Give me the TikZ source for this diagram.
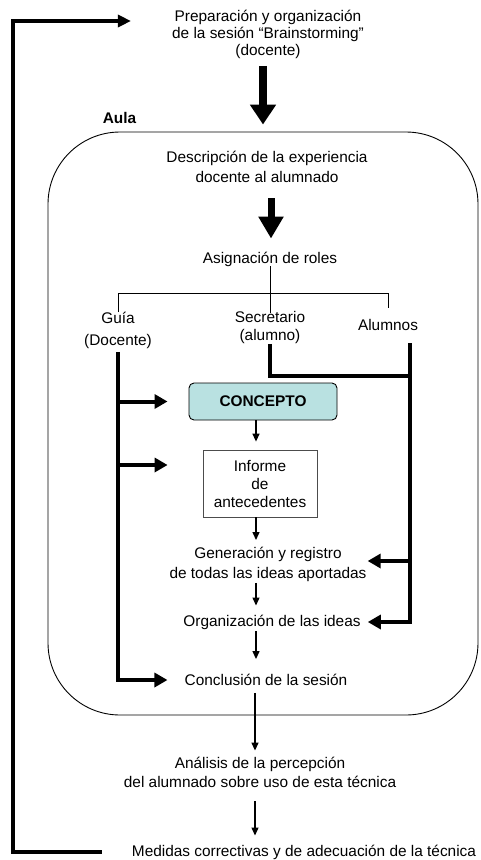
\documentclass[tikz,border=0pt]{standalone}
\usepackage{fontspec}
\setmainfont{Liberation Sans}
\usetikzlibrary{arrows.meta}
\newcommand\myfs[1]{\fontsize{15.4}{#1}\selectfont}
\definecolor{teal1}{HTML}{B9E1E1}
\begin{document}
\begin{tikzpicture}[x=1pt,y=-1pt,
  txt/.style={align=center, inner sep=0pt, font=\myfs{18}},
  bigarrow/.style={line width=8pt, -{Triangle[length=20pt,width=25pt]}},
  thickl/.style={line width=4pt},
  tharrow/.style={line width=4pt, -{Triangle[length=13pt,width=14pt]}},
  fbarrow/.style={line width=4.5pt, -{Triangle[length=13pt,width=12pt]}},
  thinarrow/.style={line width=1.3pt, -{Triangle[length=8pt,width=7pt]}},
  treel/.style={line width=0.7pt}]
\useasboundingbox (0,0) rectangle (480,860);

% outer region
\node[draw, line width=0.9pt, rounded corners=72pt, inner sep=0pt,
      minimum width=430pt, minimum height=583pt] (box) at (263,423.5) {};
\node[inner sep=0pt, font=\myfs{18}\bfseries] (aula) at (119.5,118) {Aula};

% texts
\node[txt, font=\myfs{17}] (top) at (268,34.5) {Preparación y organización\\de la sesión “Brainstorming”\\(docente)};
\node[txt, font=\myfs{20}] (desc) at (267,166.5) {Descripción de la experiencia\\docente al alumnado};
\node[txt] (asig) at (270,259) {Asignación de roles};
\node[txt, font=\myfs{22}] (guia) at (118,330.5) {Guía\\(Docente)};
\node[txt] (secr) at (270,327.5) {Secretario\\(alumno)};
\node[txt] (alum) at (388,325) {Alumnos};
\node[draw, line width=0.9pt, fill=teal1, rounded corners=5pt, inner sep=0pt,
      minimum width=148pt, minimum height=37pt, font=\myfs{18}\bfseries] (conc) at (263,401.5) {CONCEPTO};
\node[draw=black!70, line width=0.8pt, inner sep=0pt, align=center,
      minimum width=114pt, minimum height=67pt, font=\myfs{18}] (inf) at (260,483.5) {Informe\\de\\antecedentes};
\node[txt, font=\myfs{20}] (gen) at (268,564.5) {Generación y registro\\de todas las ideas aportadas};
\node[txt] (org) at (272,622) {Organización de las ideas};
\node[txt] (concl) at (266,680) {Conclusión de la sesión};
\node[txt, font=\myfs{19}] (anal) at (260,772) {Análisis de la percepción\\del alumnado sobre uso de esta técnica};
\node[txt] (med) at (304,852) {Medidas correctivas y de adecuación de la técnica};

% helper coordinates
\coordinate (mx) at (256,0);
\coordinate (hy) at (0,293);
\coordinate (sj) at (0,376);
\coordinate (ar) at (410,343);
\coordinate (fbl) at (13,852);
\coordinate (fbu) at (13,21);

% big arrows
\draw[bigarrow, shorten <=7pt, shorten >=7pt] (top.south -| box.north) -- (box.north);
\draw[line width=7pt, -{Triangle[length=22pt,width=24pt]}, shorten <=16pt, shorten >=13pt]
  (desc.south -| 271,0) -- (asig.north -| 271,0);

% role tree
\draw[treel, shorten >=-2pt] (asig.south) -- (secr.north);
\draw[treel] (guia.north) -- (guia.north |- hy) -- (alum.north |- hy) -- ([yshift=11pt]alum.north);

% guide line
\draw[tharrow, shorten <=3pt, shorten >=17pt] (guia.south) |- (concl.west);
\draw[tharrow, shorten >=21pt] (guia.south |- conc.west) -- (conc.west);
\draw[tharrow, shorten >=35pt] (guia.south |- 0,465) -- (inf.west |- 0,465);

% secretary / students
\draw[thickl] (secr.south) -- (secr.south |- sj) -- (ar |- sj);
\draw[tharrow, shorten >=7pt] (ar) |- (org.east);
\draw[tharrow, shorten >=1pt] (ar |- 0,561) -- (gen.east |- 0,561);

% main flow
\draw[thinarrow, shorten >=8pt] (conc.south -| mx) -- (inf.north -| mx);
\draw[thinarrow, shorten >=7pt] (inf.south -| mx) -- (gen.north -| mx);
\draw[thinarrow, shorten <=1pt, shorten >=9pt] (gen.south -| mx) -- (org.north -| mx);
\draw[thinarrow, shorten <=2pt, shorten >=15pt] (org.south -| mx) -- (concl.north -| mx);
\draw[thinarrow, shorten <=7pt, shorten >=6pt] (concl.south -| 255,0) -- (anal.north -| 255,0);
\draw[thinarrow, shorten <=14pt, shorten >=9pt] (anal.south -| 255,0) -- (med.north -| 255,0);

% feedback loop
\draw[fbarrow, shorten <=30pt, shorten >=41pt] (med.west) -- (fbl) -- (fbu) -- (fbu -| top.west);
\end{tikzpicture}
\end{document}
